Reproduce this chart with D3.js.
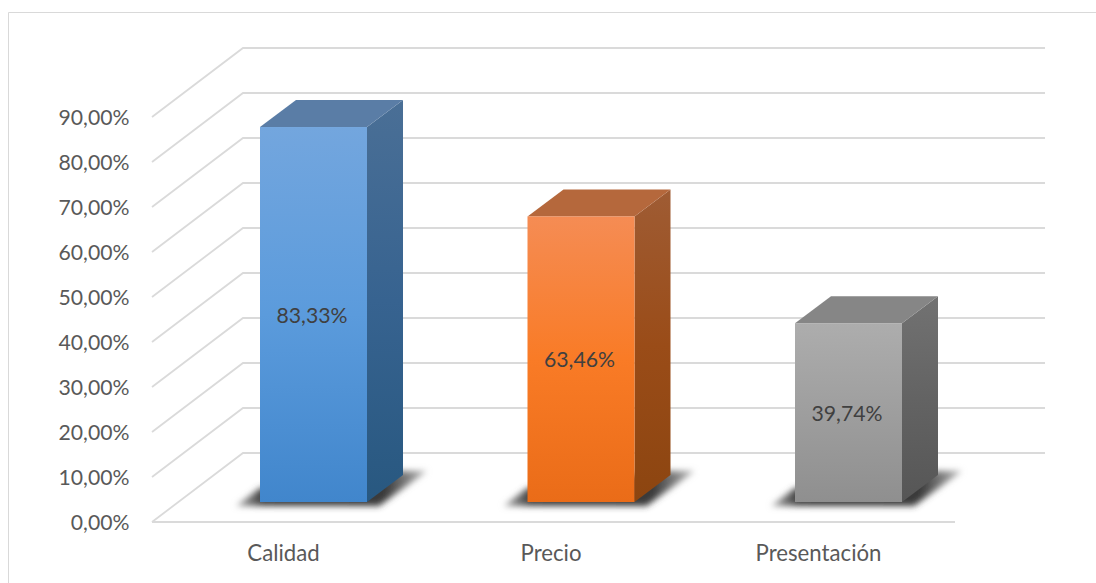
<!DOCTYPE html>
<html><head><meta charset="utf-8">
<style>html,body{margin:0;padding:0;background:#fff}svg{display:block}text{font-family:Lato,"Open Sans",sans-serif}</style>
<script src="https://cdn.jsdelivr.net/npm/d3@7"></script></head><body><div id="c"></div>
<script>
const categories = ["Calidad","Precio","Presentación"];
const values = [83.33,63.46,39.74];
const valueLabels = ["83,33%","63,46%","39,74%"];
const ticks = [0,10,20,30,40,50,60,70,80,90];
const tickLabels = ["0,00%","10,00%","20,00%","30,00%","40,00%","50,00%","60,00%","70,00%","80,00%","90,00%"];
const frontColors = [["#73a6de","#5b9bdc","#4186cc"],["#f58c54","#f97b26","#ea6c18"],["#adadad","#9e9e9e","#8f8f8f"]];
const sideColors = [["#4a6f96","#376390","#285880"],["#9f5c34","#9a4c18","#8c4510"],["#727272","#636363","#565656"]];
const topColors = ["#5a7da6","#b5683c","#868686"];

const W=1096,H=583,dx=36,dy=27;
const svg=d3.select("#c").append("svg").attr("width",W).attr("height",H);
const defs=svg.append("defs");
defs.append("filter").attr("id","blur").attr("x","-20%").attr("y","-50%").attr("width","140%").attr("height","200%")
  .append("feGaussianBlur").attr("stdDeviation",3);
function grad(id,c){const g=defs.append("linearGradient").attr("id",id).attr("x1",0).attr("y1",0).attr("x2",0).attr("y2",1);
  c.forEach((col,k)=>g.append("stop").attr("offset",k/(c.length-1)).attr("stop-color",col));}
frontColors.forEach((c,i)=>grad("f"+i,c));sideColors.forEach((c,i)=>grad("s"+i,c));
const sg=defs.append("linearGradient").attr("id","sh").attr("x1",0).attr("y1",0).attr("x2",1).attr("y2",0);
[[0,"#b0b0b0"],[0.14,"#3f3f3f"],[0.78,"#3a3a3a"],[1,"#bbbbbb"]].forEach(s=>sg.append("stop").attr("offset",s[0]).attr("stop-color",s[1]));

const x=d3.scaleBand().domain(categories).range([179.75,982.25]).paddingInner(0.6).paddingOuter(0.3);
const y=d3.scaleLinear().domain([0,90]).range([502,97]);
const frontOff=20, backOff=-49;
const xFL=152,xFR=955,xBL=243,xBR=1045;

svg.append("path").attr("d",`M8.5,${H}V12.5H${W}`).attr("fill","none").attr("stroke","#d9d9d9").attr("stroke-width",1);

const grid=svg.append("g").attr("fill","none").attr("stroke","#dadada").attr("stroke-width",1.8);
ticks.forEach(t=>{
  grid.append("path").attr("d",d3.line()([[xFL,y(t)+frontOff],[xBL,y(t)+backOff],[xBR,y(t)+backOff]]));
});
grid.append("path").attr("d",d3.line()([[xFL,y(0)+frontOff],[xFR,y(0)+frontOff]]));

svg.append("g").selectAll("text").data(ticks).join("text")
  .attr("x",129.5).attr("y",t=>y(t)+frontOff+8).attr("text-anchor","end").attr("font-size",21.2).attr("fill","#595959")
  .text((t,i)=>tickLabels[i]);

const bars=svg.append("g").selectAll("g").data(categories).join("g");
bars.each(function(c,i){
  const g=d3.select(this),x0=x(c),x1=x0+x.bandwidth(),yb=y(0),yt=y(values[i]);
  g.append("path").attr("filter","url(#blur)").attr("fill","url(#sh)")
   .attr("d",d3.line()([[x0-24,yb+4],[x0,yb-14],[x1+dx,yb-31],[x1+dx+24,yb-31],[x1+12,yb+4]])+"Z");
  g.append("path").attr("fill",`url(#s${i})`).attr("d",d3.line()([[x1,yt],[x1+dx,yt-dy],[x1+dx,yb-dy],[x1,yb]])+"Z");
  g.append("path").attr("fill",topColors[i]).attr("d",d3.line()([[x0,yt],[x0+dx,yt-dy],[x1+dx,yt-dy],[x1,yt]])+"Z");
  g.append("rect").attr("x",x0).attr("y",yt).attr("width",x.bandwidth()).attr("height",yb-yt).attr("fill",`url(#f${i})`);
  g.append("text").attr("x",x0+x.bandwidth()/2-1.5).attr("y",(yt+yb)/2+8).attr("text-anchor","middle").attr("font-size",21.2).attr("fill","#404040").text(valueLabels[i]);
  g.append("text").attr("x",x0+x.bandwidth()/2-30).attr("y",561).attr("text-anchor","middle").attr("font-size",22.2).attr("fill","#595959").text(c);
});
</script></body></html>
